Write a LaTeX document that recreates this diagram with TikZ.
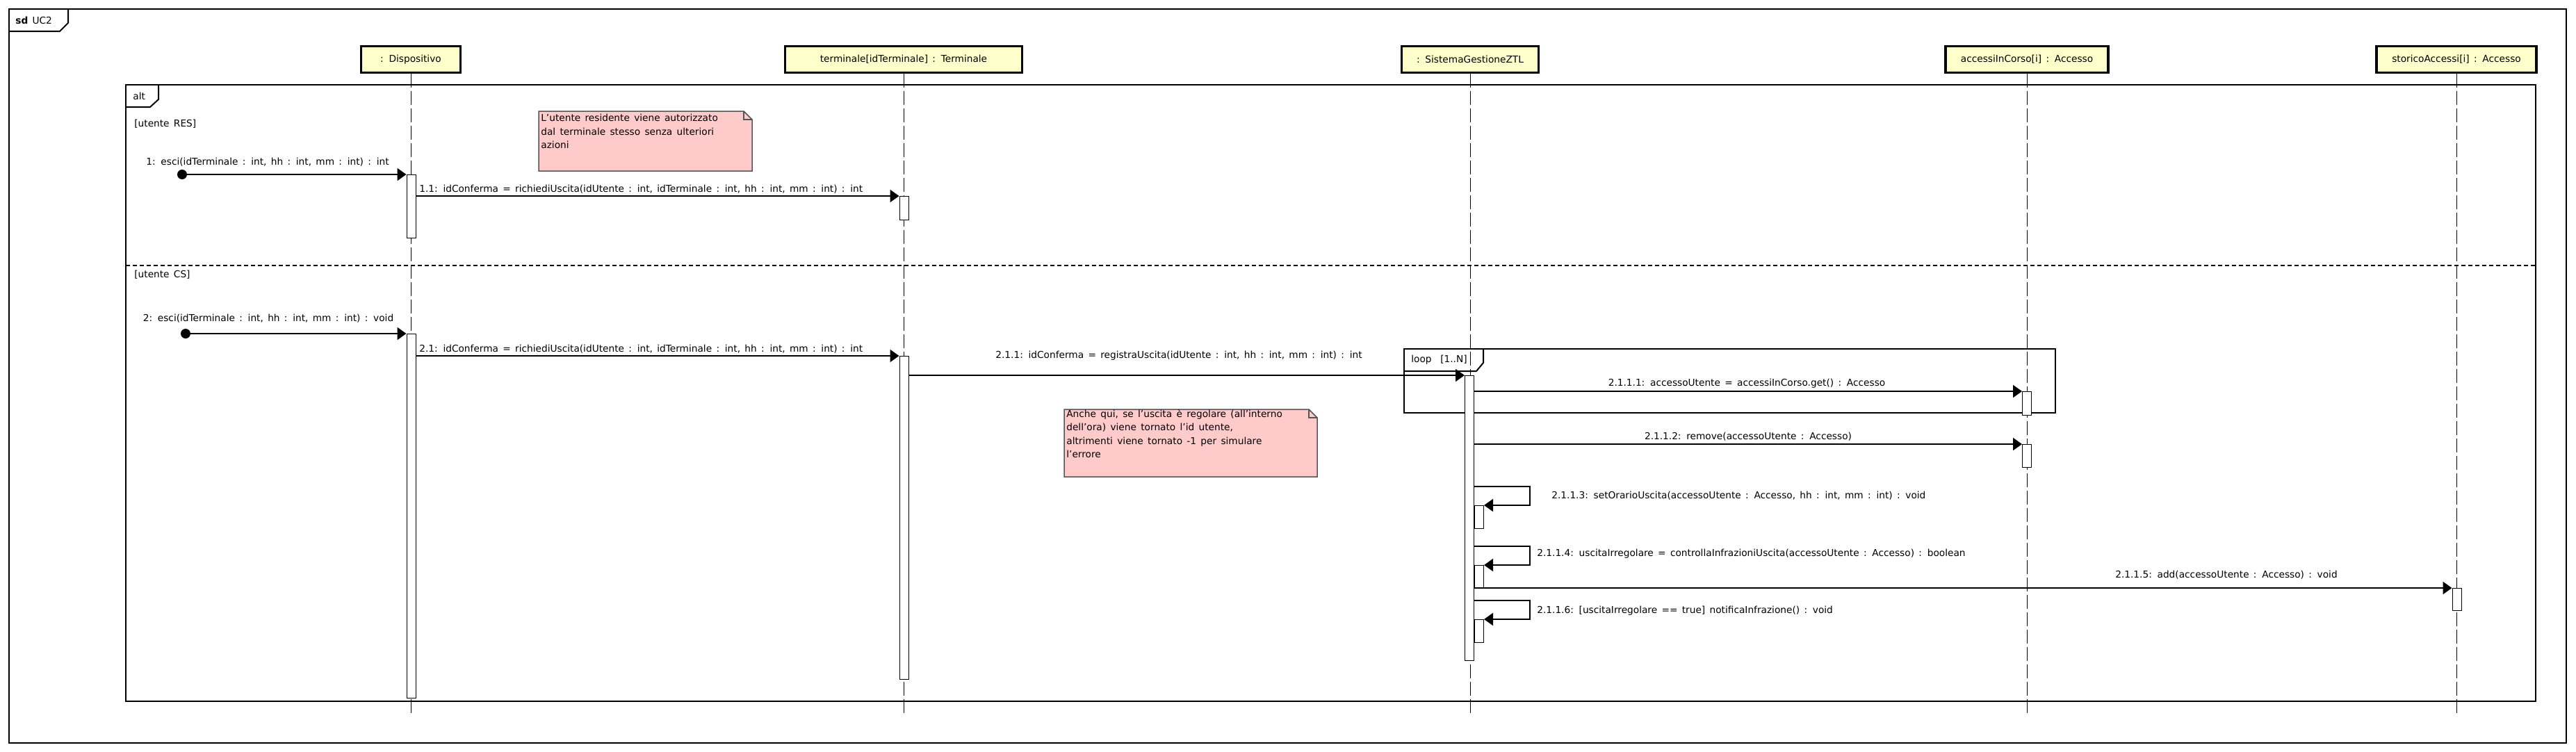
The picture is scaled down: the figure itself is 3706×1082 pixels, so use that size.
\documentclass[tikz,border=0pt]{standalone}
\usepackage{fontspec}
\setmainfont{DejaVu Sans}[WordSpace=1.45]
\usetikzlibrary{arrows.meta,calc}
\definecolor{headyellow}{RGB}{255,255,204}
\definecolor{notepink}{RGB}{255,202,202}
\definecolor{notegray}{RGB}{85,85,85}
\newlength\px
\setlength\px{0.02cm}

\begin{document}
\begin{tikzpicture}[x=0.02cm,y=-0.02cm,
	every node/.style={font=\fontsize{7.8}{11.1}\selectfont},
	head/.style={draw,line width=3.5\px,fill=headyellow,minimum height=38\px,inner sep=0pt},
	act/.style={draw,fill=white,line width=1\px,minimum width=13\px,inner sep=0pt,anchor=north},
	life/.style={line width=1\px,dash pattern=on 20\px off 5\px},
	msg/.style={line width=2\px,-{Triangle[length=0.26cm,width=0.36cm]}},
	lbl/.style={inner sep=0pt},
	frame/.style={line width=2\px},
	note/.style={draw=notegray,fill=notepink,line width=1.5\px}]
	\fill [white] (0,0) rectangle (3706,1082);
	\useasboundingbox (0,0) rectangle (3706,1082);

	%cadre sd
	\draw [frame] (13,13) rectangle (3692,1069);
	\draw [frame] (98,13) -- (98,33) -- (86,45) -- (13,45);
	\node [lbl,anchor=west] (sd) at (22,29) {\textbf{sd} UC2};

	%fragment alt
	\draw [frame] (181,122) rectangle (3648,1009);
	\draw [frame] (228,122) -- (228,143) -- (216,154) -- (181,154);
	\node [lbl,anchor=west] (alt) at (191,138) {alt};
	\draw [line width=1.5\px,dash pattern=on 6\px off 4\px] (181,382) -- (3648,382);
	\node [lbl,anchor=west] (res) at (193,178) {[utente RES]};
	\node [lbl,anchor=west] (cs) at (193,395) {[utente CS]};

	%lignes de vie
	\node [head,minimum width=143\px] (disp) at (591,85.5) {: Dispositivo};
	\node [head,minimum width=341\px] (term) at (1300,85.5) {terminale[idTerminale] : Terminale};
	\node [head,minimum width=197\px] (sist) at (2115,85.5) {: SistemaGestioneZTL};
	\node [head,minimum width=234\px] (corso) at (2916,85.5) {accessiInCorso[i] : Accesso};
	\node [head,minimum width=230\px] (stor) at (3534,85.5) {storicoAccessi[i] : Accesso};
	\coordinate (bottom) at (0,1028);
	\foreach \n in {disp,term,sist,corso,stor}
		\draw [life] (\n.south) -- (\n.south |- bottom);

	%fragment loop
	\draw [frame] (2020,502) rectangle (2957,594);
	\draw [frame] (2134,502) -- (2134,522) -- (2124,534) -- (2020,534);
	\node [lbl,anchor=west] (loop) at (2030,518) {loop\ \ [1..N]};

	%activations
	\node [act,minimum height=91\px] (dA1) at (591.5,251) {};
	\node [act,minimum height=34\px] (tA1) at (1300.5,282) {};
	\node [act,minimum height=524\px] (dA2) at (591.5,480) {};
	\node [act,minimum height=465\px] (tA2) at (1300.5,512) {};
	\node [act,minimum height=410\px] (sA) at (2114,540) {};
	\node [act,minimum height=34\px] (cA1) at (2916,563) {};
	\node [act,minimum height=33\px] (cA2) at (2916,639) {};
	\node [act,minimum height=33\px] (nA3) at (2128,727) {};
	\node [act,minimum height=33\px] (nA4) at (2128,813) {};
	\node [act,minimum height=33\px] (nA6) at (2128,891) {};
	\node [act,minimum height=32\px] (stA) at (3534.5,846) {};

	%messages
	\coordinate (s1) at (262,251);
	\fill (s1) circle (7\px);
	\draw [msg] (s1) -- (dA1.north west);
	\node [lbl] (l1) at (385,233) {1: esci(idTerminale : int, hh : int, mm : int) : int};
	\draw [msg] (dA1.east |- tA1.north) -- (tA1.north west);
	\node [lbl,anchor=west] (l11) at (603,272) {1.1: idConferma = richiediUscita(idUtente : int, idTerminale : int, hh : int, mm : int) : int};

	\coordinate (s2) at (267,480);
	\fill (s2) circle (7\px);
	\draw [msg] (s2) -- (dA2.north west);
	\node [lbl] (l2) at (386,458) {2: esci(idTerminale : int, hh : int, mm : int) : void};
	\draw [msg] (dA2.east |- tA2.north) -- (tA2.north west);
	\node [lbl,anchor=west] (l21) at (603,502) {2.1: idConferma = richiediUscita(idUtente : int, idTerminale : int, hh : int, mm : int) : int};
	\draw [msg] (tA2.east |- sA.north) -- (sA.north west);
	\node [lbl] (l211) at (1696,512) {2.1.1: idConferma = registraUscita(idUtente : int, hh : int, mm : int) : int};

	\draw [msg] (sA.east |- cA1.north) -- (cA1.north west);
	\node [lbl] (l2111) at (2513,552) {2.1.1.1: accessoUtente = accessiInCorso.get() : Accesso};
	\draw [msg] (sA.east |- cA2.north) -- (cA2.north west);
	\node [lbl] (l2112) at (2515,628) {2.1.1.2: remove(accessoUtente : Accesso)};

	\draw [msg] ($(nA3.north west)+(0,-27)$) -- ++(80,0) |- (nA3.north east);
	\node [lbl,anchor=west] (l2113) at (2232,713) {2.1.1.3: setOrarioUscita(accessoUtente : Accesso, hh : int, mm : int) : void};
	\draw [msg] ($(nA4.north west)+(0,-27)$) -- ++(80,0) |- (nA4.north east);
	\node [lbl,anchor=west] (l2114) at (2211,797) {2.1.1.4: uscitaIrregolare = controllaInfrazioniUscita(accessoUtente : Accesso) : boolean};
	\draw [msg] (sA.east |- stA.north) -- (stA.north west);
	\node [lbl] (l2115) at (3203,827) {2.1.1.5: add(accessoUtente : Accesso) : void};
	\draw [msg] ($(nA6.north west)+(0,-27)$) -- ++(80,0) |- (nA6.north east);
	\node [lbl,anchor=west] (l2116) at (2211,879) {2.1.1.6: [uscitaIrregolare == true] notificaInfrazione() : void};

	%note
	\draw [note] (775,160) -- (1070,160) -- (1082,172) -- (1082,246) -- (775,246) -- cycle;
	\draw [draw=notegray,line width=1.5\px] (1070,160) -- (1070,172) -- (1082,172);
	\node [lbl,anchor=north west,align=left] (n1) at (778,164) {L'utente residente viene autorizzato\\dal terminale stesso senza ulteriori\\azioni};

	\draw [note] (1531,589) -- (1883,589) -- (1895,601) -- (1895,686) -- (1531,686) -- cycle;
	\draw [draw=notegray,line width=1.5\px] (1883,589) -- (1883,601) -- (1895,601);
	\node [lbl,anchor=north west,align=left] (n2) at (1534,589) {Anche qui, se l'uscita è regolare (all'interno\\dell'ora) viene tornato l'id utente,\\altrimenti viene tornato -1 per simulare\\l'errore};
\end{tikzpicture}
\end{document}
